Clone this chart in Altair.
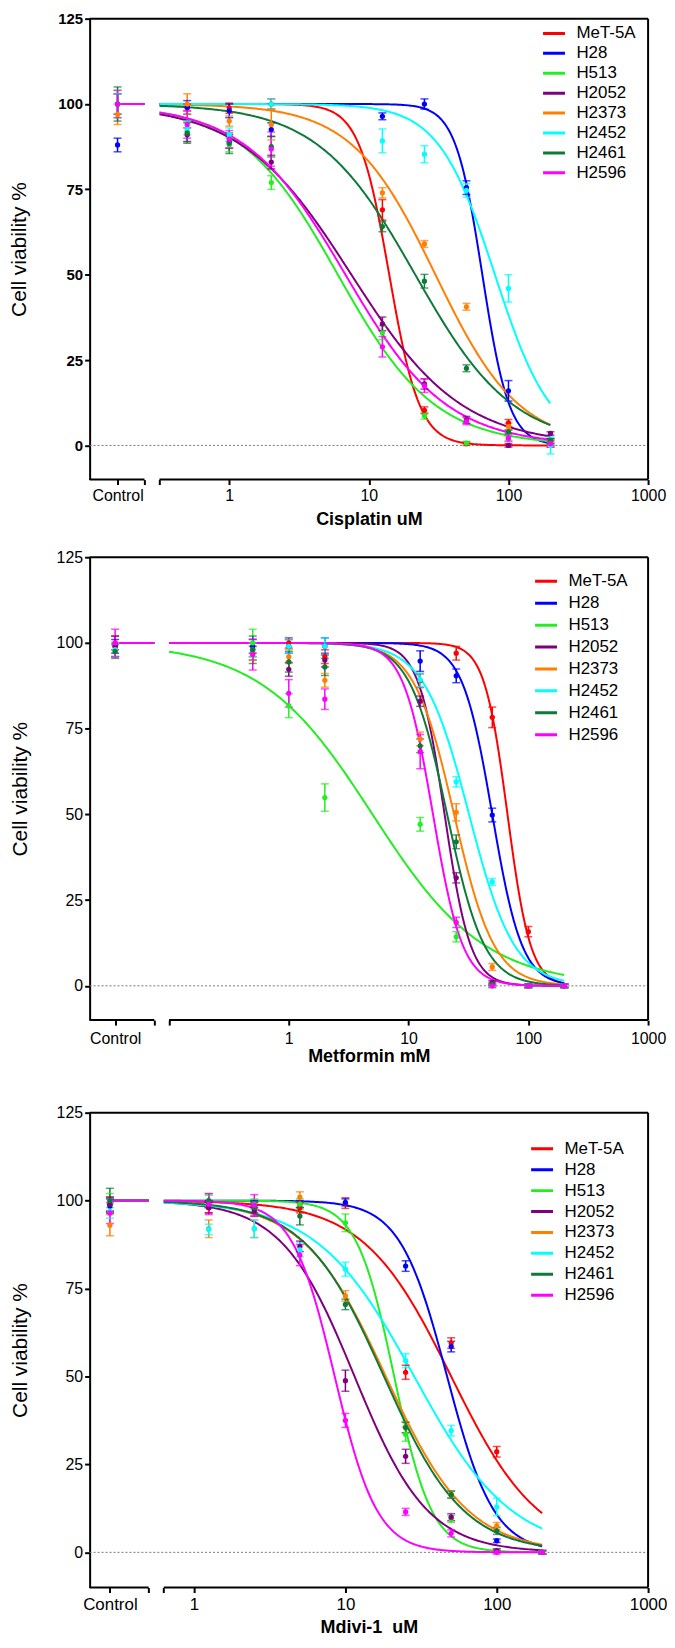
import math
import altair as alt
import pandas as pd

FONT = "Liberation Sans"

SERIES = ["MeT-5A", "H28", "H513", "H2052", "H2373", "H2452", "H2461", "H2596"]
COLORS = ["#FF0000", "#0000FF", "#22EE22", "#7F007F", "#FF7F00", "#00FFFF", "#0E7A3A", "#FF00FF"]

# ---------------- Cisplatin (uM) ; 0 = Control ----------------
CIS_CONC = [0, 0.5, 1, 2, 12.5, 25, 50, 100, 200]
CIS_MEAN = [
    [100, 99, 98.8, 100, 69, 10.3, 0.5, 6.6, 0],
    [88, 99, 98, 92.5, 96.4, 100, 75.5, 16, 1],
    [100, 92, 88, 77, 33, 8.7, 0.7, 2, 0.5],
    [100, 91, 89, 83, 35.6, 18, 7.5, 0, 3.5],
    [97, 100, 95, 94, 74, 59, 40.6, 5.5, 1],
    [100, 93, 91, 100, 89.2, 85.3, 74.7, 46, 0],
    [100, 91.5, 88.5, 87.5, 64.1, 48.1, 22.6, 4, 1.5],
    [100, 94, 89.7, 86.8, 28.9, 17.5, 7.1, 2.1, 0.5],
]
CIS_ERR = [
    [3, 1, 1.5, 1.5, 3, 1, 0.5, 1, 0.5],
    [2, 2, 2, 2, 1, 1.5, 2, 3, 1],
    [4, 3, 2, 2, 2, 1, 0.5, 0.5, 0.5],
    [3, 2, 2, 2, 2, 1.5, 1, 0.5, 0.5],
    [3, 3, 1.5, 4.5, 1.5, 1, 1, 1, 0.5],
    [3, 2, 2, 1.5, 3.5, 2.5, 2, 4, 2.5],
    [5, 3, 3, 3, 1.5, 2, 1, 0.5, 0.5],
    [4, 4, 2.5, 5, 3, 2, 1, 1, 1],
]
CIS_IC50 = [14, 65, 6, 7.5, 30, 80, 21.5, 6.8]
CIS_HILL = [4, 4.5, 1.25, 1.1, 1.45, 2.15, 1.24, 1.2]

# ---------------- Metformin (mM) ----------------
MET_CONC = [0, 0.5, 1, 2, 12.5, 25, 50, 100, 200]
MET_MEAN = [
    [100, 98, 100, 96, 89, 97, 78.3, 15.8, 0],
    [99, 99, 99, 99, 94.7, 90.4, 49.8, 0, 0],
    [98, 100, 81.7, 54.9, 47.1, 14.3, 0, 0, 0],
    [99, 97, 92.3, 95, 83, 31.5, 1, 0, 0],
    [98, 97, 96, 89.1, 72, 50.6, 5.5, 0, 0],
    [98, 98, 99, 99, 89.2, 59.5, 30.3, 0, 0],
    [97.5, 98, 94.5, 93, 70, 42, 0.5, 0, 0],
    [100, 96.6, 85.3, 83.6, 68.3, 18.5, 0, 0, 0],
]
MET_ERR = [
    [2, 2, 1.5, 2, 2, 2, 3, 1.5, 0.5],
    [2, 2, 2, 2.5, 3, 2, 2, 0.5, 0.5],
    [2, 4, 3.5, 4, 2, 1.5, 0.5, 0.5, 0.5],
    [3, 2, 2, 2, 1.5, 1.5, 0.5, 0.5, 0.5],
    [2, 2, 2, 2, 2, 2.5, 1, 0.5, 0.5],
    [2, 2, 2, 2.5, 2, 1.5, 1, 0.5, 0.5],
    [2, 4, 3, 2.5, 2, 2, 0.5, 0.5, 0.5],
    [4, 4.5, 4, 3, 5, 1.5, 0.5, 0.5, 0.5],
]
MET_IC50 = [67, 50, 5, 20, 24, 32, 21, 16]
MET_HILL = [4.5, 3.5, 0.93, 4, 2.6, 2.3, 2.8, 3.5]

# ---------------- Mdivi-1 (uM) ----------------
MDI_CONC = [0, 1.25, 2.5, 5, 10, 25, 50, 100, 200]
MDI_MEAN = [
    [99, 98, 98, 98, 99.3, 51.2, 59.5, 28.6, 0],
    [98.5, 99, 99, 99, 99.5, 81.4, 58.5, 3.3, 0],
    [100, 100, 99, 99, 93.7, 33.6, 9.5, 0.5, 0],
    [99, 98, 97, 87, 48.8, 27.3, 10, 0.5, 0],
    [93, 92, 92, 101, 72.9, 35.5, 16.5, 7.5, 0],
    [97, 91.8, 92, 86, 80.5, 54.5, 34.6, 12.9, 0],
    [100, 100, 98, 95.6, 70.5, 35.5, 16.4, 6.1, 0],
    [96.5, 99, 98.7, 84.5, 37.5, 11.5, 5.4, 0, 0],
]
MDI_ERR = [
    [2, 1.5, 1.5, 1.5, 1.5, 2, 1.5, 1.5, 0.5],
    [2, 1, 1, 1, 1, 1.5, 1.5, 0.5, 0.5],
    [2, 1.5, 1.5, 1.5, 2.5, 2, 1, 0.5, 0.5],
    [2, 1.5, 1.5, 1.5, 3, 2, 1, 0.5, 0.5],
    [3, 2.5, 2.5, 1.5, 1.5, 1.5, 1, 1, 0.5],
    [2, 1.5, 2.5, 2, 2, 2, 1.5, 2.5, 0.5],
    [3.5, 2, 1.5, 2.5, 1.5, 1.5, 1, 1, 0.5],
    [3, 3, 3, 3, 2, 1, 1, 0.5, 0.5],
]
MDI_IC50 = [50, 47, 21, 11.5, 18.5, 28.5, 18, 8.5]
MDI_HILL = [1.5, 2.8, 3.5, 1.8, 1.6, 1.35, 1.65, 3.1]

Y_TICKS = [0, 25, 50, 75, 100, 125]
X_DECADES = [0, 1, 2, 3]


def make_panel(conc, means, errs, ic50, hill, geo, xtitle, height, ylab, xlab, legend):
    xmin, xmax, ctrl, seg_end, log_start = geo
    rows = []
    for s, mrow, erow in zip(SERIES, means, errs):
        for c, m, e in zip(conc, mrow, erow):
            rows.append({"series": s, "conc": c, "mean": m, "lo": m - e, "hi": m + e})
    pts = pd.DataFrame(rows)
    par = pd.DataFrame({"series": SERIES, "ic50": ic50, "hill": hill, "top": [100] * len(SERIES)})

    xs = alt.Scale(domain=[xmin, xmax], nice=False, zero=False)
    ys = alt.Scale(domain=[-10, 125], nice=False, zero=False)
    cs = alt.Scale(domain=SERIES, range=COLORS)

    label_expr = (
        f"abs(datum.value - ({ctrl})) < 0.000001 ? 'Control' : "
        "((datum.value > -0.000001 && abs(datum.value - round(datum.value)) < 0.000001) ? "
        "format(pow(10, round(datum.value)), 'd') : '')"
    )
    xaxis = alt.Axis(
        values=[ctrl, seg_end, log_start] + X_DECADES, labelExpr=label_expr,
        domain=False, grid=False, tickSize=5, tickWidth=2, tickColor="black",
        labelFont=FONT, labelFontSize=xlab["size"], labelColor="black",
        labelPadding=xlab["pad"], labelOverlap=False, labelFlush=False,
        title=xtitle, titleFont=FONT, titleFontSize=18, titleFontWeight="bold",
        titleColor="black", titlePadding=xlab["tpad"],
    )
    yaxis = alt.Axis(
        values=Y_TICKS, domain=True, domainColor="black", domainWidth=2, grid=False,
        tickSize=5, tickWidth=2, tickColor="black",
        labelFont=FONT, labelFontSize=ylab["size"], labelFontWeight=ylab["weight"],
        labelColor="black", labelPadding=2,
        title="Cell viability %", titleFont=FONT, titleFontSize=21,
        titleFontWeight="normal", titleColor="black", titlePadding=ylab["tpad"],
    )

    def X(f):
        return alt.X(f, scale=xs, axis=xaxis)

    def Y(f):
        return alt.Y(f, scale=ys, axis=yaxis)

    stroke_c = alt.Stroke("series:N", scale=cs, legend=None)
    fill_c = alt.Fill("series:N", scale=cs, legend=None)

    xpos = f"datum.conc == 0 ? {ctrl} : log(datum.conc) / LN10"
    base = alt.Chart(pts).transform_calculate(lx=xpos)

    zero = alt.Chart(alt.Data(values=[{"k": 0}])).mark_rule(
        color="#777777", strokeDash=[2, 2], strokeWidth=1
    ).encode(x=alt.datum(xmin, scale=xs, axis=xaxis), x2=alt.datum(xmax),
             y=alt.datum(0, scale=ys, axis=yaxis))

    stop = math.log10(200) + 0.005
    curves = alt.Chart(par).transform_calculate(
        grid=f"sequence({log_start}, {stop}, 0.01)"
    ).transform_flatten(["grid"]).transform_calculate(
        v="datum.top / (1 + pow(pow(10, datum.grid) / datum.ic50, datum.hill))"
    ).mark_line(strokeWidth=2).encode(
        x=X("grid:Q"), y=Y("v:Q"),
        color=alt.Color("series:N", scale=cs, legend=alt.Legend(
            title=None, orient="none", legendX=legend["x"], legendY=legend["y"],
            symbolType="stroke", symbolStrokeWidth=3, symbolSize=484,
            labelFont=FONT, labelFontSize=17, labelColor="black",
            rowPadding=0, clipHeight=legend["h"], labelOffset=10, padding=0,
            symbolOffset=0,
        )),
        detail="series:N",
    )

    flat = alt.Chart(par).transform_calculate(
        x0=str(ctrl), x1=str(seg_end)
    ).mark_rule(strokeWidth=2).encode(
        x=X("x0:Q"), x2="x1:Q", y=Y("top:Q"), stroke=stroke_c,
    )

    stems = base.mark_rule(strokeWidth=1.5).encode(
        x=X("lx:Q"), y=Y("lo:Q"), y2="hi:Q", stroke=stroke_c,
    )
    cap_lo = base.mark_tick(orient="horizontal", size=8, thickness=1.5).encode(
        x=X("lx:Q"), y=Y("lo:Q"), fill=fill_c,
    )
    cap_hi = base.mark_tick(orient="horizontal", size=8, thickness=1.5).encode(
        x=X("lx:Q"), y=Y("hi:Q"), fill=fill_c,
    )
    dots = base.mark_circle(size=28, opacity=1).encode(
        x=X("lx:Q"), y=Y("mean:Q"), fill=fill_c,
    )

    frame_df = pd.DataFrame({
        "x0": [xmin, xmax, xmin, log_start],
        "x1": [xmax, xmax, seg_end, xmax],
        "y0": [125, -10, -10, -10],
        "y1": [125, 125, -10, -10],
    })
    frame = alt.Chart(frame_df).mark_rule(color="black", strokeWidth=2).encode(
        x=X("x0:Q"), x2="x1:Q", y=Y("y0:Q"), y2="y1:Q",
    )

    return alt.layer(zero, curves, flat, stems, cap_lo, cap_hi, dots, frame).properties(
        width=561, height=height
    )


p1 = make_panel(
    CIS_CONC, CIS_MEAN, CIS_ERR, CIS_IC50, CIS_HILL,
    (-1.0, 3.0, -0.8, -0.607, -0.5), "Cisplatin uM", 463,
    {"size": 15, "weight": "bold", "tpad": 28},
    {"size": 16, "pad": 3, "tpad": 7},
    {"x": 454, "y": 5, "h": 19.7},
)
p2 = make_panel(
    MET_CONC, MET_MEAN, MET_ERR, MET_IC50, MET_HILL,
    (-1.663, 3.0, -1.45, -1.123, -1.0), "Metformin mM", 465,
    {"size": 16, "weight": "normal", "tpad": 26},
    {"size": 16, "pad": 5, "tpad": 2},
    {"x": 446, "y": 13.5, "h": 21.5},
)
p3 = make_panel(
    MDI_CONC, MDI_MEAN, MDI_ERR, MDI_IC50, MDI_HILL,
    (-0.69, 3.0, -0.556, -0.30, -0.2), "Mdivi-1\u00a0 uM", 477,
    {"size": 16, "weight": "normal", "tpad": 26},
    {"size": 17, "pad": 4, "tpad": 6},
    {"x": 442, "y": 26, "h": 20.6},
)

RES = dict(x="independent", y="independent", color="independent",
           fill="independent", stroke="independent")

top = alt.vconcat(p1, p2, spacing=21).resolve_scale(**RES).resolve_legend(color="independent")

chart = alt.vconcat(top, p3, spacing=39).resolve_scale(**RES).resolve_legend(
    color="independent"
).properties(padding=0, background="white").configure_view(stroke=None)

chart.save("out.html", embed_options={"renderer": "svg", "actions": False})
